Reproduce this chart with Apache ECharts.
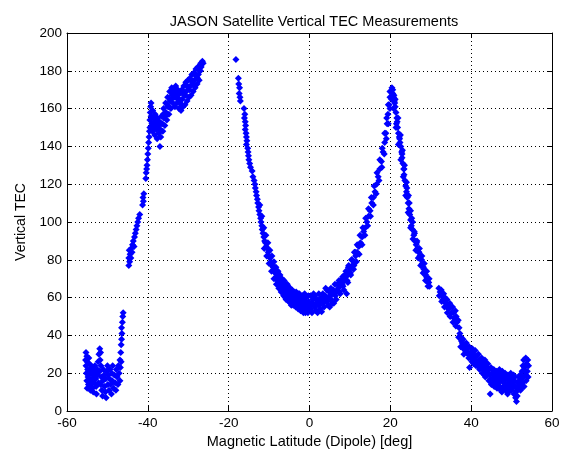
<!DOCTYPE html>
<html><head><meta charset="utf-8">
<script src="https://cdn.jsdelivr.net/npm/echarts@6/dist/echarts.min.js"></script>
<style>html,body{margin:0;padding:0;background:#fff}#c{width:564px;height:455px}</style>
</head><body><div id="c"></div>
<script>
const chartTitle = 'JASON Satellite Vertical TEC Measurements';
const xName = 'Magnetic Latitude (Dipole) [deg]';
const yName = 'Vertical TEC';

const southCluster = [[-55.3,31],[-55.1,29],[-55.4,27],[-55.0,26],[-55.3,24],[-54.9,22],[-55.2,20],[-54.8,18],[-55.1,16],[-54.7,14],[-55.0,12],[-54.6,28],[-54.5,25],[-54.4,22],[-54.6,19],[-54.3,16],[-54.5,13],[-54.2,11],[-54.0,24],[-53.9,20],[-53.8,17],[-54.0,14],[-53.7,12],[-53.6,22],[-53.4,19],[-53.3,15],[-53.5,10],[-53.1,24],[-53.0,20],[-52.9,17],[-52.8,13],[-52.7,9],[-52.5,22],[-52.3,26],[-52.4,19],[-52.2,15],[-52.1,30],[-51.9,33],[-51.7,31],[-51.8,27],[-51.6,24],[-51.9,21],[-51.5,18],[-51.7,14],[-51.4,11],[-51.2,8],[-51.0,22],[-50.8,19],[-51.1,16],[-50.7,13],[-50.5,10],[-50.3,7],[-50.4,17],[-50.2,21],[-50.0,24],[-49.8,19],[-49.9,14],[-49.6,11],[-49.4,22],[-49.5,17],[-49.2,14],[-49.0,9],[-48.9,20],[-48.7,24],[-48.8,16],[-48.5,12],[-48.3,19],[-48.1,15],[-47.9,11],[-47.8,22],[-47.6,18],[-47.4,14],[-47.3,24],[-47.1,20],[-46.9,16],[-46.9,27],[-46.7,31],[-46.6,35],[-46.5,38],[-46.4,41],[-46.5,44],[-46.3,47],[-46.2,50],[-46.1,52],[-46.8,23],[-46.6,26]];

const southRise = [[-44.7,77],[-44.5,79],[-44.7,81],[-44.4,83],[-44.6,85],[-44.2,81],[-44.1,86],[-43.9,84],[-43.8,88],[-43.6,90],[-43.4,87],[-43.3,92],[-43.1,94],[-42.9,96],[-42.7,98],[-42.5,100],[-42.3,102],[-42.0,104],[-41.3,109],[-41.1,111],[-41.2,113],[-41.0,115],[-40.5,123],[-40.4,126],[-40.3,128],[-40.2,130],[-40.1,133],[-40.0,136],[-39.9,139],[-39.8,142],[-39.7,145],[-39.6,148]];

const southCrest = [[-39.5,150],[-39.5,154],[-39.4,158],[-39.2,163],[-39.2,156],[-39.0,152],[-38.9,148],[-38.8,159],[-38.6,155],[-38.5,151],[-38.3,146],[-38.2,157],[-38.0,153],[-37.9,149],[-37.7,144],[-37.6,155],[-37.4,151],[-37.3,147],[-37.0,140],[-37.1,153],[-36.9,149],[-36.8,145],[-36.6,156],[-36.4,152],[-36.3,148],[-36.1,160],[-36.0,155],[-35.8,151],[-35.6,163],[-35.5,158],[-35.3,154],[-35.1,166],[-35.0,161],[-34.8,157],[-34.6,169],[-34.5,164],[-34.3,160],[-34.1,171],[-34.0,167],[-33.8,163],[-33.6,170],[-33.5,166],[-33.3,161],[-33.1,172],[-33.0,168],[-32.8,163],[-32.6,170],[-32.5,165],[-32.3,160],[-32.1,168],[-32.0,163],[-31.8,159],[-31.6,170],[-31.5,165],[-31.3,161],[-31.1,172],[-31.0,167],[-30.8,162],[-30.6,174],[-30.5,169],[-30.3,164],[-30.1,175],[-30.0,171],[-29.8,166],[-29.6,176],[-29.5,172],[-29.3,167],[-29.1,178],[-29.0,174],[-28.8,169],[-28.6,179],[-28.5,175],[-28.3,171],[-28.1,181],[-28.0,177],[-27.8,173],[-27.6,182],[-27.5,178],[-27.3,175],[-27.1,183],[-27.0,180],[-26.8,182],[-26.5,185],[-26.3,184],
[-39.3,161],[-38.7,150],[-38.4,153],[-37.8,151],[-37.2,149],[-36.7,152],[-36.2,157],[-35.7,156],[-35.2,162],[-34.7,161],[-34.2,165],[-33.7,168],[-33.2,166],[-32.7,167],[-32.2,165],[-31.7,162],[-31.2,169],[-30.7,167],[-30.2,172],[-29.7,170],[-29.2,175],[-28.7,173],[-28.2,178],[-27.7,176],[-27.2,180],[-26.9,184]];

const isolatedPoint = [[-18.2,186]];

const equatorSouth = [[-17.6,176],[-17.5,173],[-17.3,171],[-17.4,168],[-17.2,166],[-17.1,164],[-16.2,160],[-16.0,157],[-16.1,155],[-15.9,153],[-15.8,151],[-15.9,149],[-15.7,147],[-15.6,145],[-15.5,143],[-15.6,141],[-15.3,139],[-15.2,137],[-15.1,135],[-15.0,133],[-14.8,131],[-14.6,129],[-14.2,127],[-14.0,124],[-13.7,122],[-13.5,120],[-13.4,118],[-13.2,116],[-13.1,114],[-12.9,112],[-12.8,110],[-12.6,108],[-12.5,106],[-12.3,104],[-12.1,102],[-12.0,100],[-11.8,98],[-11.7,96],[-11.5,94],[-11.3,92],[-11.1,90],[-10.9,89],[-10.7,87],[-10.4,86],[-10.2,84],[-10.0,82],[-9.8,81],[-9.5,79],[-9.3,77],[-9.0,76],[-8.8,74],[-8.5,73],[-8.2,71],[-7.9,70],[-7.6,69],[-7.3,68],[-7.0,67],[-6.6,66],[-6.3,65],[-5.9,64],[-5.5,63],[-5.1,62],[-4.7,61],[-4.3,60],[-3.9,60],[-3.4,59],[-2.9,58],[-2.4,58],[-1.9,57],[-1.4,57],[-0.9,56],[-0.4,56],
[-12.3,109],[-11.8,103],[-11.3,97],[-10.8,93],[-10.3,89],[-9.8,85],[-9.3,82],[-8.8,79],[-8.3,76],[-7.8,74],[-7.3,72],[-6.8,70],[-6.3,69],[-5.8,67],[-5.3,66],[-4.8,65],[-4.3,64],[-3.8,63],[-3.3,63],[-2.8,62],[-2.3,61],[-1.8,61],[-1.3,60],[-0.8,60],[-0.3,61],
[-11.2,86],[-10.6,82],[-10.0,78],[-9.4,74],[-8.8,70],[-8.2,67],[-7.6,65],[-7.0,63],[-6.4,61],[-5.8,59],[-5.2,58],[-4.6,57],[-4.0,56],[-3.4,55],[-2.8,54],[-2.2,53],[-1.6,53],[-1.0,52],[-0.4,52],
[-8.6,76],[-7.9,73],[-7.2,70],[-6.6,68],[-6.0,66],[-5.4,65],[-4.7,63],[-4.1,62],[-3.5,61],[-2.8,60],[-2.1,59],[-1.5,59],[-0.9,58],[-0.2,58],
[-8.4,70],[-7.7,67],[-7.1,65],[-6.5,63],[-5.9,62],[-5.3,60],[-4.6,59],[-4.0,58],[-3.3,57],[-2.6,56],[-2.0,55],[-1.4,55],[-0.8,54],[-0.1,54],
[-6.0,60],[-4.5,56],[-3.0,55],[-1.5,52],[-0.5,53],[-2.5,62],[-1.2,62],[-5.5,67]];

const equatorNorth = [[0.1,56],[0.6,57],[1.1,56],[1.6,57],[2.1,57],[2.6,58],[3.1,58],[3.6,59],[4.1,59],[4.6,60],[5.1,61],[5.6,62],[6.1,62],[6.6,63],[7.1,65],[7.6,66],[8.1,67],[8.6,69],[9.0,71],[9.4,72],[9.8,74],[10.2,76],[10.6,77],[11.0,79],[11.4,82],[11.8,84],[12.2,87],[12.6,89],[13.0,92],[13.4,95],[13.8,97],[14.2,100],[14.6,103],[15.0,106],[15.4,110],[15.8,113],[16.2,116],[16.6,120],[17.0,124],[17.4,128],[17.8,132],[18.2,137],[18.6,142],[18.9,147],[19.2,152],[19.4,157],[19.7,162],[19.9,166],[20.1,169],[20.4,171],
[0.3,61],[1.3,61],[2.3,62],[3.3,62],[4.3,64],[5.3,65],[6.3,67],[7.3,69],[8.2,71],[9.0,74],[9.7,77],[10.4,80],[11.1,84],[11.8,88],[12.5,93],[13.2,97],[13.9,102],[14.6,107],[15.3,113],[16.0,119],[16.7,126],[17.4,133],[18.0,139],[18.6,147],[19.1,155],[19.5,162],[19.9,169],
[0.6,52],[1.6,53],[2.6,54],[3.6,55],[4.6,56],[5.6,57],[6.6,59],[7.6,62],[8.5,64],[9.2,62],[9.5,68],[10.2,72],[10.9,75],[11.6,79],[12.3,83],[13.0,88],[13.7,93],[14.4,98],[15.1,103],[15.8,109],[16.5,115],[17.2,122],[17.9,129],[18.5,136],[19.0,144],[19.5,152],[19.9,160],[20.3,165],[20.6,168],[20.8,166],
[0.9,59],[1.9,59],[2.9,60],[3.9,61],[4.9,63],[5.9,64],[6.9,67],[7.8,69],[8.7,72],[9.6,76],[10.5,80],[11.3,84],
[0.4,54],[1.4,55],[2.4,56],[3.4,57],[4.4,58],[5.4,59],[6.4,61],[7.4,63],[8.3,66],[9.3,69],[10.1,73],[11.0,77],
[1.0,62],[2.0,52],[3.0,52.5],[4.0,65],[5.0,55],[6.0,57]];

const northDecline = [[20.6,170],[20.9,167],[21.0,164],[21.2,161],[21.4,158],[21.6,155],[21.5,152],[21.8,150],[22.0,147],[22.2,145],[22.4,142],[22.6,140],[22.8,137],[22.9,134],[23.1,131],[23.3,128],[23.4,125],[23.6,122],[23.8,119],[24.0,116],[24.2,113],[24.4,110],[24.6,107],[24.8,104],[25.0,101],[25.2,98],[25.5,96],[25.8,93],[26.1,90],[26.4,88],[26.7,86],[27.0,84],[27.3,82],[27.6,80],[27.9,78],[28.2,76],[28.5,74],[28.8,72],[29.1,70],[29.4,68],[29.7,66],
[21.2,165],[21.9,155],[22.5,146],[23.0,138],[23.5,130],[24.0,121],[24.5,114],[25.0,106],[25.5,100],[26.0,94],[26.6,90],[27.2,86],[27.8,82],[28.4,78],[29.0,74],[29.6,70],
[20.8,160],[21.4,150],[22.0,141],[22.6,133],[23.2,124],[23.8,114],[24.4,105],[25.0,97],[25.6,91],[26.3,85],[26.9,81],[27.5,77],[28.1,73],[28.7,69],[29.3,66],
[21.1,163],[21.7,153],[22.3,144],[22.9,136],[23.4,128],[24.1,118],[24.7,110],[25.3,102],[25.9,95],[26.5,89],[27.1,84],[27.7,80],[28.3,75],[28.9,71],[29.5,68]];

const northCluster = [[32.0,65],[32.3,63],[32.1,61],[32.6,64],[32.8,61],[33.0,59],[32.7,58],[33.2,62],[33.5,60],[33.7,57],[33.4,55],[34.0,59],[34.2,56],[34.4,54],[34.1,52],[34.7,57],[34.9,55],[35.1,52],[34.8,50],[35.4,55],[35.6,52],[35.8,49],[35.5,47],[36.1,53],[36.3,50],[36.5,47],[36.2,45],[36.8,48],[37.0,44],[37.2,41],[36.9,39]];

const northTail = [[37.5,39],[37.8,36],[37.4,34],[38.0,38],[38.3,35],[38.5,32],[38.2,30],[38.8,36],[39.0,33],[39.2,30],[39.6,23],[39.5,34],[39.8,31],[40.0,28],[40.3,33],[40.5,30],[40.8,27],[40.6,25],[41.0,32],[41.3,29],[41.5,26],[41.2,24],[41.8,30],[42.0,27],[42.3,24],[42.1,22],[42.6,28],[42.9,25],[43.1,22],[42.8,20],[43.4,27],[43.6,24],[43.8,21],[43.5,18],[44.1,25],[44.3,22],[44.6,19],[44.7,9],[44.4,16],[44.9,23],[45.1,20],[45.3,17],[45.0,14],[45.6,22],[45.8,19],[46.0,16],[45.7,13],[46.3,21],[46.5,18],[46.7,15],[46.4,12],[47.0,22],[47.2,19],[47.4,16],[47.1,13],[47.6,10],[47.7,21],[47.9,18],[48.1,15],[47.8,12],[48.4,20],[48.6,17],[48.8,14],[48.5,11],[49.0,9],[49.1,19],[49.3,16],[49.5,13],[49.2,10],[49.8,20],[50.0,17],[50.2,14],[49.9,11],[50.5,19],[50.7,16],[50.9,13],[50.6,9],[51.0,7],[51.2,5],[51.3,11],[51.5,15],[51.8,18],[52.0,14],[52.2,11],[52.4,17],[52.6,21],[52.8,24],[52.7,15],[53.0,27],[53.2,23],[53.4,19],[53.1,13],[53.5,28],[53.7,25],[53.9,21],[54.0,27],[54.2,24],[54.1,18],
[37.6,37],[38.1,33],[38.6,34],[39.1,31],[39.4,28],[39.9,29],[40.2,26],[40.7,29],[41.1,27],[41.6,24],[42.2,26],[42.7,23],[43.2,26],[43.3,19],[43.9,23],[44.2,20],[44.8,17],[45.2,22],[45.5,15],[46.1,19],[46.2,14],[46.8,17],[46.9,20],[47.3,11],[47.5,18],[48.0,13],[48.3,17],[48.7,19],[48.9,12],[49.4,18],[49.7,15],[50.1,12],[50.4,16],[50.8,18],[51.1,10],[51.4,8],[51.6,12],[51.9,16],[52.1,19],[52.3,14],[52.5,12],[52.9,18],[53.3,21],[53.6,16]];

const allPoints = [].concat(southCluster, southRise, southCrest, isolatedPoint, equatorSouth, equatorNorth, northDecline, northCluster, northTail);

const font = 'Liberation Sans, Arial, sans-serif';
const axisCommon = {
  axisLine: {show: true, onZero: false, lineStyle: {color: '#000', width: 1}},
  axisTick: {show: true, inside: true, length: 5, lineStyle: {color: '#000'}},
  splitLine: {show: false}
};
const chart = echarts.init(document.getElementById('c'), null, {renderer: 'canvas'});
chart.setOption({
  animation: false,
  backgroundColor: '#fff',
  title: {text: chartTitle, left: 309, top: 9, textAlign: 'center',
    textStyle: {fontFamily: font, fontSize: 14.5, fontWeight: 'normal', color: '#000'}},
  grid: {left: 67, right: 12, top: 33, bottom: 44, containLabel: false},
  xAxis: [
    Object.assign({}, axisCommon, {type: 'value', min: -60, max: 60, interval: 20, position: 'bottom',
      name: xName, nameLocation: 'middle', nameGap: 22,
      nameTextStyle: {fontFamily: font, fontSize: 14.5, color: '#000'},
      axisLabel: {fontFamily: font, fontSize: 13.5, color: '#000', margin: 5},
      splitLine: {show: true, lineStyle: {color: '#000', type: [1, 3], width: 1}}}),
    Object.assign({}, axisCommon, {type: 'value', min: -60, max: 60, interval: 20, position: 'top',
      axisLabel: {show: false}})
  ],
  yAxis: [
    Object.assign({}, axisCommon, {type: 'value', min: 0, max: 200, interval: 20, position: 'left',
      name: yName, nameLocation: 'middle', nameGap: 36, nameRotate: 90,
      nameTextStyle: {fontFamily: font, fontSize: 14, color: '#000'},
      axisLabel: {fontFamily: font, fontSize: 13.5, color: '#000', margin: 5},
      splitLine: {show: true, lineStyle: {color: '#000', type: [1, 3], width: 1}}}),
    Object.assign({}, axisCommon, {type: 'value', min: 0, max: 200, interval: 20, position: 'right',
      axisLabel: {show: false}})
  ],
  series: [{
    type: 'scatter', xAxisIndex: 0, yAxisIndex: 0,
    data: allPoints, symbol: 'diamond', symbolSize: 7,
    itemStyle: {color: '#0000ff', opacity: 1}
  }]
});
</script></body></html>
